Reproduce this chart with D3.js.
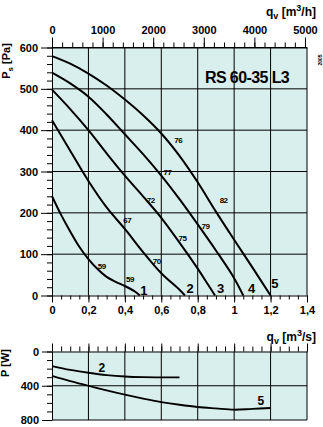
<!DOCTYPE html>
<html>
<head>
<meta charset="UTF-8">
<style>
  body { margin: 0; background: #fff; }
  svg text { font-family: "Liberation Sans", Arial, sans-serif; font-weight: bold; }
</style>
</head>
<body>
<svg id="chart" width="323" height="427"></svg>
<script src="https://d3js.org/d3.v7.min.js"></script>
<script>
// pressure curves, q in m3/s, ps in Pa
const q1 = [0, 0.05, 0.1, 0.15, 0.2, 0.25, 0.3, 0.35, 0.4, 0.45, 0.483];
const ps1 = [240, 195, 155, 118, 88, 64, 45, 33, 23, 11, 0];
const q2 = [0, 0.1, 0.2, 0.3, 0.4, 0.5, 0.6, 0.7, 0.73];
const ps2 = [424, 350, 277, 213, 161, 105, 54, 14, 0];
const q3 = [0, 0.1, 0.2, 0.3, 0.4, 0.5, 0.6, 0.7, 0.8, 0.85, 0.895];
const ps3 = [498, 451, 400, 344, 290, 240, 188, 128, 65, 31, 0];
const q4 = [0, 0.1, 0.2, 0.3, 0.4, 0.5, 0.6, 0.7, 0.8, 0.9, 1.0, 1.05];
const ps4 = [539, 513, 481, 438, 390, 342, 290, 233, 172, 109, 42, 0];
const q5 = [0, 0.1, 0.2, 0.3, 0.4, 0.5, 0.6, 0.7, 0.8, 0.9, 1.0, 1.1, 1.2];
const ps5 = [579, 561, 537, 508, 474, 436, 392, 338, 274, 203, 135, 68, 0];

// power curves, P in W
const qp2 = [0, 0.1, 0.2, 0.3, 0.4, 0.5, 0.6, 0.7];
const pw2 = [170, 215, 248, 275, 292, 300, 302, 303];
const qp5 = [0, 0.1, 0.2, 0.3, 0.4, 0.5, 0.6, 0.7, 0.8, 0.9, 1.0, 1.1, 1.2];
const pw5 = [285, 345, 400, 455, 505, 550, 590, 622, 648, 665, 680, 670, 660];

const flowTicks = [0, 0.2, 0.4, 0.6, 0.8, 1, 1.2, 1.4];
const pressureTicks = [0, 100, 200, 300, 400, 500, 600];
const hourTicks = [0, 1000, 2000, 3000, 4000, 5000];
const powerTicks = [0, 400, 800];

// efficiency labels (%)
const effText = ["76", "77", "72", "82", "67", "79", "75", "70", "59", "59"];
const effQ = [0.693, 0.634, 0.542, 0.942, 0.413, 0.843, 0.716, 0.575, 0.273, 0.428];
const effPs = [376, 297, 231, 231, 181, 166, 137, 83, 71, 39];

const curveNames = ["1", "2", "3", "4", "5"];
const nameQ = [0.505, 0.758, 0.926, 1.096, 1.224];
const namePs = [13, 17, 18, 18, 30];
const powerNames = ["2", "5"];
const powerNameQ = [0.273, 1.147];
const powerNameP = [194, 574];

const svg = d3.select("#chart");
const fill = "#d9efed";

const x = d3.scaleLinear().domain([0, 1.4]).range([52, 307]);
const y = d3.scaleLinear().domain([0, 600]).range([295.5, 47.5]);
const xh = d3.scaleLinear().domain([0, 5040]).range([52, 307]);
const yp = d3.scaleLinear().domain([0, 800]).range([351.5, 420]);

const comma = d3.formatLocale({decimal: ",", thousands: "", grouping: [3], currency: ["", ""]}).format("~f");

// panels
svg.append("rect").attr("x", x(0)).attr("y", y(600))
  .attr("width", x(1.4) - x(0)).attr("height", y(0) - y(600)).attr("fill", fill);
svg.append("rect").attr("x", x(0)).attr("y", yp(0))
  .attr("width", x(1.4) - x(0)).attr("height", yp(800) - yp(0)).attr("fill", fill);

// grid
const grid = svg.append("g").attr("stroke", "#000").attr("stroke-width", 1);
grid.selectAll(".v").data(flowTicks.slice(1)).enter().append("line")
  .attr("x1", d => x(d)).attr("x2", d => x(d)).attr("y1", y(0)).attr("y2", y(600));
grid.selectAll(".h").data(pressureTicks.slice(1)).enter().append("line")
  .attr("x1", x(0)).attr("x2", x(1.4)).attr("y1", d => y(d)).attr("y2", d => y(d));
grid.selectAll(".vp").data(flowTicks.slice(1)).enter().append("line")
  .attr("x1", d => x(d)).attr("x2", d => x(d)).attr("y1", yp(0)).attr("y2", yp(800));
grid.selectAll(".hp").data(powerTicks.slice(1)).enter().append("line")
  .attr("x1", x(0)).attr("x2", x(1.4)).attr("y1", d => yp(d)).attr("y2", d => yp(d));

function addAxis(axis, tx, ty, showDomain) {
  const g = svg.append("g").attr("transform", `translate(${tx},${ty})`).call(axis);
  if (!showDomain) g.select(".domain").remove();
  g.selectAll("line, path").attr("stroke", "#000");
  g.selectAll("text").attr("font-size", 11).attr("fill", "#000")
    .attr("font-family", "'Liberation Sans', Arial, sans-serif");
  return g;
}

const minorFlow = d3.range(0, 28.5).map(i => i * 0.05);
const plain = d3.format("d");

// main panel axes
addAxis(d3.axisLeft(y).tickValues(d3.range(0, 601, 20)).tickSize(5).tickSizeOuter(0).tickFormat(""), x(0), 0, true);
addAxis(d3.axisLeft(y).tickValues(pressureTicks).tickSize(11).tickPadding(3).tickFormat(plain), x(0), 0, false);
addAxis(d3.axisBottom(x).tickValues(minorFlow).tickSize(4).tickSizeOuter(0).tickFormat(""), 0, y(0), true);
addAxis(d3.axisBottom(x).tickValues(flowTicks).tickSize(7).tickPadding(4).tickFormat(comma), 0, y(0), false);
addAxis(d3.axisTop(xh).tickValues(d3.range(0, 5001, 200)).tickSize(5).tickSizeOuter(0).tickFormat(""), 0, y(600), true);
addAxis(d3.axisTop(xh).tickValues(hourTicks).tickSize(10).tickPadding(4).tickFormat(plain), 0, y(600), false);

// power panel axes
addAxis(d3.axisLeft(yp).tickValues(d3.range(0, 801, 100)).tickSize(5).tickSizeOuter(0).tickFormat(""), x(0), 0, true);
addAxis(d3.axisLeft(yp).tickValues(powerTicks).tickSize(10).tickPadding(3).tickFormat(plain), x(0), 0, false);
addAxis(d3.axisTop(x).tickValues(minorFlow).tickSize(5).tickSizeOuter(0).tickFormat(""), 0, yp(0), true);
addAxis(d3.axisTop(x).tickValues(flowTicks).tickSize(8).tickFormat(""), 0, yp(0), false);

// curves
const line = d3.line().x(d => x(d[0])).y(d => y(d[1])).curve(d3.curveCatmullRom);
const pline = d3.line().x(d => x(d[0])).y(d => yp(d[1])).curve(d3.curveCatmullRom);

const pressureCurves = [[q1, ps1], [q2, ps2], [q3, ps3], [q4, ps4], [q5, ps5]];
svg.append("g").selectAll("path").data(pressureCurves).enter().append("path")
  .attr("d", d => line(d3.zip(d[0], d[1])))
  .attr("fill", "none").attr("stroke", "#000").attr("stroke-width", 2);

const powerCurves = [[qp2, pw2], [qp5, pw5]];
svg.append("g").selectAll("path").data(powerCurves).enter().append("path")
  .attr("d", d => pline(d3.zip(d[0], d[1])))
  .attr("fill", "none").attr("stroke", "#000").attr("stroke-width", 1.8);

// labels
svg.append("g").selectAll("text").data(effText).enter().append("text")
  .attr("x", (d, i) => x(effQ[i])).attr("y", (d, i) => y(effPs[i]))
  .attr("text-anchor", "middle").attr("dominant-baseline", "central")
  .attr("font-size", 8).attr("letter-spacing", -0.5).text(d => d);

svg.append("g").selectAll("text").data(curveNames).enter().append("text")
  .attr("x", (d, i) => x(nameQ[i])).attr("y", (d, i) => y(namePs[i]))
  .attr("text-anchor", "middle").attr("dominant-baseline", "central")
  .attr("font-size", 13).text(d => d);

svg.append("g").selectAll("text").data(powerNames).enter().append("text")
  .attr("x", (d, i) => x(powerNameQ[i])).attr("y", (d, i) => yp(powerNameP[i]))
  .attr("text-anchor", "middle").attr("dominant-baseline", "central")
  .attr("font-size", 12).text(d => d);

svg.append("text").attr("x", 205).attr("y", 82.5).attr("font-size", 16)
  .attr("letter-spacing", -0.6).text("RS 60-35 L3");

// axis titles
function flowTitle(ty, unit) {
  const t = svg.append("text").attr("x", 316).attr("y", ty)
    .attr("text-anchor", "end").attr("font-size", 12);
  t.append("tspan").text("q");
  t.append("tspan").attr("dy", 3).attr("font-size", 9).text("v");
  t.append("tspan").attr("dy", -3).text(" [m");
  t.append("tspan").attr("dy", -5).attr("font-size", 9).text("3");
  t.append("tspan").attr("dy", 5).text(unit + "]");
}
flowTitle(16, "/h");
flowTitle(341, "/s");

const psTitle = svg.append("text").attr("transform", "translate(10,61) rotate(-90)")
  .attr("text-anchor", "middle").attr("font-size", 11);
psTitle.append("tspan").text("P");
psTitle.append("tspan").attr("dy", 3).attr("font-size", 8).text("s");
psTitle.append("tspan").attr("dy", -3).text(" [Pa]");

svg.append("text").attr("transform", "translate(9,363) rotate(-90)")
  .attr("text-anchor", "middle").attr("font-size", 11).text("P [W]");

svg.append("text").attr("transform", "translate(322,60) rotate(-90)")
  .attr("text-anchor", "middle").attr("font-size", 5).text("2005");
</script>
</body>
</html>
